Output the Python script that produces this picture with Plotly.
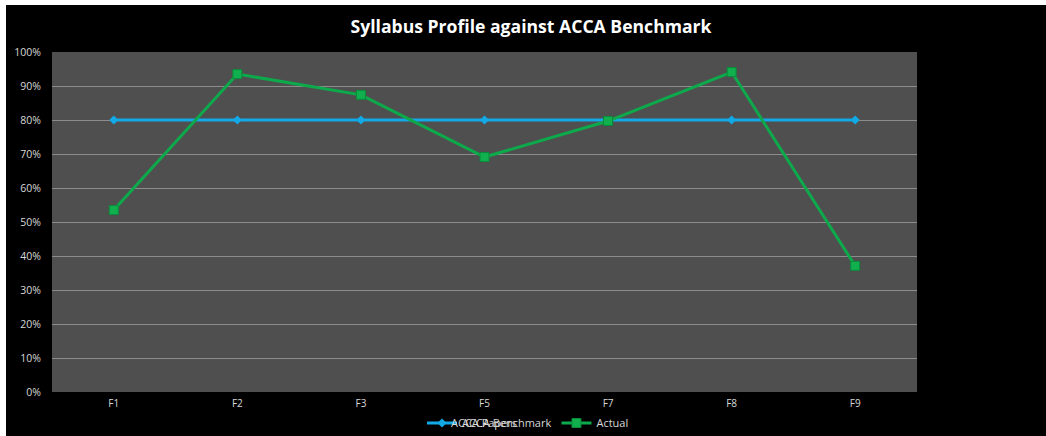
import plotly.graph_objects as go

papers = ["F1", "F2", "F3", "F5", "F7", "F8", "F9"]
benchmark = [0.80, 0.80, 0.80, 0.80, 0.80, 0.80, 0.80]
actual = [0.535, 0.935, 0.874, 0.691, 0.797, 0.941, 0.371]
y_ticks = [0, 0.1, 0.2, 0.3, 0.4, 0.5, 0.6, 0.7, 0.8, 0.9, 1.0]
y_labels = ["0%", "10%", "20%", "30%", "40%", "50%", "60%", "70%", "80%", "90%", "100%"]

W, H = 1046, 436
L, R, T, B = 52, 129, 52, 44
pw, ph = W - L - R, H - T - B


def px_x(x):
    return (x - L) / pw


def px_y(y):
    return (H - B - y) / ph


fig = go.Figure()
fig.add_trace(go.Scatter(
    x=papers, y=benchmark, name="ACCA Benchmark", mode="lines+markers",
    line=dict(color="#12A9E6", width=3),
    marker=dict(symbol="diamond", size=7, color="#12A9E6"),
))
fig.add_trace(go.Scatter(
    x=papers, y=actual, name="Actual", mode="lines+markers",
    line=dict(color="#0DAA4C", width=3),
    marker=dict(symbol="square", size=9, color="#10B04E",
                line=dict(color="#0A8A3A", width=1)),
))

# thin white outer edges (top and left)
fig.add_shape(type="rect", xref="paper", yref="paper",
              x0=px_x(0), x1=px_x(W), y0=px_y(5), y1=px_y(0),
              fillcolor="white", line_width=0, layer="above")
fig.add_shape(type="rect", xref="paper", yref="paper",
              x0=px_x(0), x1=px_x(6), y0=px_y(H), y1=px_y(0),
              fillcolor="white", line_width=0, layer="above")

fig.add_annotation(text="ACCA Papers", xref="paper", yref="paper",
                   x=px_x(484), y=px_y(423), yanchor="middle",
                   xanchor="center", showarrow=False,
                   font=dict(family="Open Sans", size=11, color="#D8D8D8"))

fig.update_layout(
    width=W, height=H,
    margin=dict(l=L, r=R, t=T, b=B, autoexpand=False),
    paper_bgcolor="black", plot_bgcolor="#4F4F4F",
    title=dict(text="<b>Syllabus Profile against ACCA Benchmark</b>",
               x=531 / W, xanchor="center", y=1 - 27 / H, yanchor="middle",
               font=dict(family="Open Sans", size=17.6, color="white")),
    font=dict(family="Open Sans", color="#D8D8D8", size=10),
    showlegend=True,
    legend=dict(orientation="h", x=px_x(422), xanchor="left",
                y=px_y(423), yanchor="middle",
                font=dict(family="Open Sans", size=11, color="#D8D8D8"),
                bgcolor="rgba(0,0,0,0)", tracegroupgap=0),
    xaxis=dict(range=[-0.5, len(papers) - 0.5], autorange=False,
               showgrid=False, zeroline=False, showline=False,
               tickfont=dict(size=10, color="#D8D8D8"), ticks="", ticklen=0,
               ticklabelstandoff=4),
    yaxis=dict(range=[0, 1.0], tickvals=y_ticks, ticktext=y_labels,
               showgrid=True, gridcolor="#8C8C8C", gridwidth=1,
               zeroline=False, showline=False,
               tickfont=dict(size=10.5, color="#D8D8D8"), ticks="",
               ticklabelstandoff=10),
)
fig.write_html("out.html", config={"displayModeBar": False},
               post_script="document.body.style.margin='0px';")
